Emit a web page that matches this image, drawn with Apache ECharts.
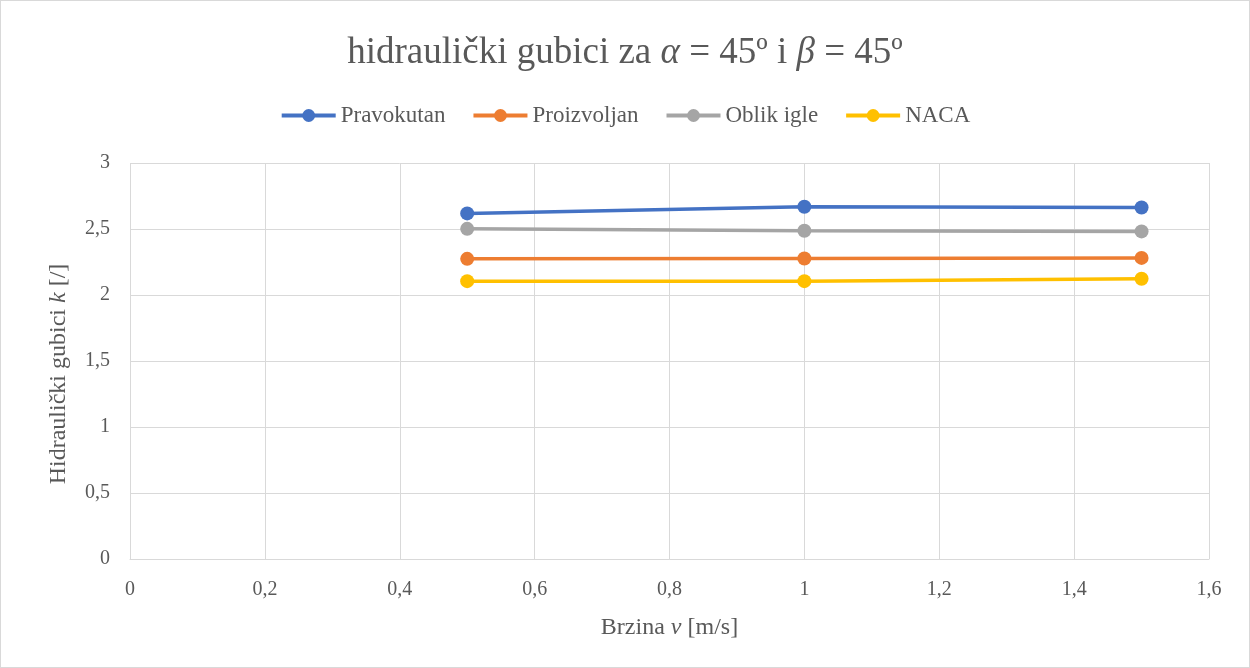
<!DOCTYPE html>
<html>
<head>
<meta charset="utf-8">
<script src="https://cdn.jsdelivr.net/npm/echarts@6/dist/echarts.min.js"></script>
<style>
html,body{margin:0;padding:0;background:#fff;}
#chart{width:1250px;height:668px;box-sizing:border-box;border:1px solid #d9d9d9;}
</style>
</head>
<body>
<div id="chart"></div>
<script>
// podaci
var brzine = [0.5, 1, 1.5];
var pravokutan = [2.618, 2.668, 2.663];
var proizvoljan = [2.274, 2.276, 2.281];
var oblikIgle = [2.501, 2.487, 2.482];
var naca = [2.105, 2.105, 2.123];
var serije = ['Pravokutan', 'Proizvoljan', 'Oblik igle', 'NACA'];
var boje = ['#4472c4', '#ed7d31', '#a5a5a5', '#ffc000'];

function parovi(vals) {
    return brzine.map(function (x, i) { return [x, vals[i]]; });
}

var font = '"Liberation Serif", "Times New Roman", serif';
var myChart = echarts.init(document.getElementById('chart'));

var option = {
    animation: false,
    color: boje,
    title: {
        text: 'hidraulički gubici za {i|α} = 45º i {i|β} = 45º',
        left: 'center',
        top: 29,
        textStyle: {
            fontFamily: font,
            fontSize: 37,
            fontWeight: 'normal',
            color: '#595959',
            rich: {
                i: { fontFamily: font, fontSize: 37, fontStyle: 'italic', color: '#595959' }
            }
        }
    },
    legend: {
        data: serije,
        top: 98,
        left: 'center',
        itemGap: 26,
        itemWidth: 54,
        itemHeight: 16,
        lineStyle: { width: 4 },
        textStyle: { fontFamily: font, fontSize: 23, color: '#595959' }
    },
    grid: {
        left: 129,
        right: 40,
        top: 162,
        bottom: 108
    },
    xAxis: {
        type: 'value',
        min: 0,
        max: 1.6,
        interval: 0.2,
        name: 'Brzina {i|v} [m/s]',
        nameLocation: 'middle',
        nameGap: 57,
        nameTextStyle: {
            fontFamily: font, fontSize: 24, color: '#595959',
            rich: { i: { fontFamily: font, fontSize: 24, fontStyle: 'italic', color: '#595959' } }
        },
        axisLine: { show: true, lineStyle: { color: '#d9d9d9', width: 1 } },
        axisTick: { show: false },
        splitLine: { show: true, lineStyle: { color: '#d9d9d9', width: 1 } },
        axisLabel: {
            fontFamily: font, fontSize: 20, color: '#595959', margin: 21,
            formatter: function (v) { return String(+v.toFixed(1)).replace('.', ','); }
        }
    },
    yAxis: {
        type: 'value',
        min: 0,
        max: 3,
        interval: 0.5,
        name: 'Hidraulički gubici {i|k} [/]',
        nameLocation: 'middle',
        nameGap: 59,
        nameTextStyle: {
            fontFamily: font, fontSize: 24, color: '#595959',
            padding: [0, 26, 0, 0],
            rich: { i: { fontFamily: font, fontSize: 24, fontStyle: 'italic', color: '#595959' } }
        },
        axisLine: { show: false },
        axisTick: { show: false },
        splitLine: { show: true, lineStyle: { color: '#d9d9d9', width: 1 } },
        axisLabel: {
            fontFamily: font, fontSize: 20, color: '#595959', margin: 20,
            formatter: function (v) { return String(+v.toFixed(1)).replace('.', ','); }
        }
    },
    series: [
        { name: 'Pravokutan', data: parovi(pravokutan) },
        { name: 'Proizvoljan', data: parovi(proizvoljan) },
        { name: 'Oblik igle', data: parovi(oblikIgle) },
        { name: 'NACA', data: parovi(naca) }
    ].map(function (s, i) {
        return {
            name: s.name,
            type: 'line',
            data: s.data,
            symbol: 'circle',
            symbolSize: 14,
            lineStyle: { width: 3.5, color: boje[i] },
            itemStyle: { color: boje[i] }
        };
    })
};

myChart.setOption(option);
</script>
</body>
</html>
